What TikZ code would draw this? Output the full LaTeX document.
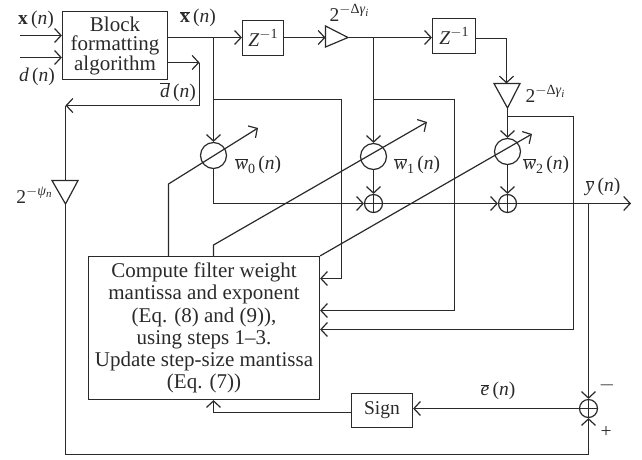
\documentclass[tikz,border=0pt]{standalone}
\usepackage{fontspec}
\setmainfont{Liberation Serif}
\usetikzlibrary{arrows.meta,calc}
\definecolor{ink}{HTML}{2A2A2A}
\newcommand{\ita}[1]{\textit{#1}}
\newcommand{\ofn}[1]{#1\,(\ita{n})}
\newcommand{\barred}[1]{$\overline{\hbox{#1}}$}
\newcommand{\subidx}[1]{\raisebox{-0.2em}{\fontsize{14}{14}\selectfont #1}}
\newcommand{\pw}[1]{2\raisebox{0.42em}{\fontsize{14}{14}\selectfont #1}}
\newcommand{\zinv}{\ita{Z}\raisebox{0.42em}{\fontsize{14}{14}\selectfont$-$1}}
\tikzset{
  x=1pt,y=-1pt,
  every node/.style={text=ink,font=\fontsize{19.5}{19.5}\selectfont},
  wire/.style={draw=ink,line width=1.2pt,line join=miter},
  arr/.style={wire,-{Straight Barb[length=6.5pt,width=14pt,line width=1.2pt]}},
  procbox/.style={draw=ink,line width=1.2pt,inner sep=0pt,align=center,rectangle},
  multc/.style={draw=ink,line width=1.2pt,circle,inner sep=0pt,minimum size=26pt},
  sumc/.style={draw=ink,line width=1.2pt,circle,inner sep=0pt,minimum size=18pt},
  lbl/.style={inner sep=0pt},
}
\begin{document}
\begin{tikzpicture}
\useasboundingbox (0,0) rectangle (642,459);
% boxes
\node[procbox,minimum width=105pt,minimum height=68pt,font=\fontsize{21}{19.5}\selectfont] (blk) at (115,45.5) {Block\\formatting\\algorithm};
\node[procbox,minimum width=41pt,minimum height=35pt] (z1) at (263,38) {\zinv};
\node[procbox,minimum width=43pt,minimum height=35pt] (z2) at (454,36) {\zinv};
\node[procbox,minimum width=231pt,minimum height=143pt,font=\fontsize{21}{22.3}\selectfont] (comp) at (204,328) {Compute filter weight\\mantissa and exponent\\(Eq. (8) and (9)),\\using steps 1--3.\\Update step-size mantissa\\(Eq. (7))};
\node[procbox,minimum width=61pt,minimum height=34pt] (sgn) at (382,410.5) {Sign};
% multipliers and summers
\node[multc] (m0) at (213.5,155.5) {};
\node[multc] (m1) at (373.5,156.5) {};
\node[multc] (m2) at (507.5,151.5) {};
\node[sumc] (s1) at (373.5,203.5) {};
\node[sumc] (s2) at (507.5,203.5) {};
\node[sumc] (s3) at (588.5,408.5) {};
\foreach \s in {s1,s2,s3}{\draw[wire] (\s.north)--(\s.south) (\s.west)--(\s.east);}
% triangles
\coordinate (t1a) at (325.5,26); \coordinate (t1b) at (325.5,47); \coordinate (t1c) at (348,37.5);
\coordinate (t2a) at (494,83.5); \coordinate (t2b) at (520,83.5); \coordinate (t2c) at (507.5,108);
\coordinate (t3a) at (52,180.5); \coordinate (t3b) at (78,180.5); \coordinate (t3c) at (65.5,204);
\draw[wire] (t1a)--(t1b)--(t1c)--cycle;
\draw[wire] (t2a)--(t2b)--(t2c)--cycle;
\draw[wire] (t3a)--(t3b)--(t3c)--cycle;
% inputs
\coordinate (inx) at (20,35.5); \coordinate (ind) at (20,57.5);
\draw[arr] (inx)--(inx-|blk.west);
\draw[arr] (ind)--(ind-|blk.west);
% top signal path
\coordinate (j0) at (213.5,37.5); \coordinate (j1) at (373.5,37.5);
\draw[arr] (blk.east|-j0)--(j0)--(j0-|z1.west);
\draw[arr] (z1.east|-t1c)--(t1a|-t1c);
\draw[arr] (t1c)--(j1)--(j1-|z2.west);
\coordinate (zc) at (506.5,38.5);
\draw[arr] (z2.east|-zc)--(zc)--(zc|-t2a);
\draw[arr] (j0)--(m0.north);
\draw[arr] (j1)--(m1.north);
\draw[arr] (t2c)--(m2.north);
% d bar path
\coordinate (db1) at (199.5,62.5); \coordinate (db2) at (199.5,105.5); \coordinate (db3) at (65.5,105.5);
\draw[arr] (blk.east|-db1)--(db1);
\draw[wire] (db1)--(db2);
\draw[arr] (db2)--(db3);
\draw[wire] (db3)--(t3a-|db3);
\coordinate (bl) at (65.5,454.5); \coordinate (br) at (588.5,454.5);
\draw[arr] (t3c)--(bl)--(br)--(s3.south);
% feedback taps into the compute box
\coordinate (f0a) at (213.5,99.5); \coordinate (f0b) at (341.5,99.5); \coordinate (f0c) at (341.5,278.5);
\draw[arr] (f0a)--(f0b)--(f0c)--(comp.east|-f0c);
\coordinate (f1a) at (373.5,99.5); \coordinate (f1b) at (454.5,99.5); \coordinate (f1c) at (454.5,310.5);
\draw[arr] (f1a)--(f1b)--(f1c)--(comp.east|-f1c);
\coordinate (f2a) at (507.5,116.5); \coordinate (f2b) at (573.5,116.5); \coordinate (f2c) at (573.5,329.5);
\draw[arr] (f2a)--(f2b)--(f2c)--(comp.east|-f2c);
% weights to adders
\coordinate (w0e) at (213.5,203.5);
\draw[arr] (m0.south)--(w0e)--(s1.west);
\draw[arr] (m1.south)--(s1.north);
\draw[arr] (m2.south)--(s2.north);
\draw[arr] (s1.east)--(s2.west);
\coordinate (yend) at (631,203.5);
\draw[arr] (s2.east)--(yend);
% error path
\coordinate (ytap) at (588.5,203.5);
\draw[arr] (ytap)--(s3.north);
\draw[arr] (s3.west)--(sgn.east|-s3);
\coordinate (sg1) at (213.5,412.5);
\draw[arr] (sgn.west|-sg1)--(sg1)--(comp.south-|sg1);
% adaptation diagonals
\coordinate (d0a) at (168.5,184); \coordinate (d0b) at (258,128);
\draw[arr] (comp.north-|d0a)--(d0a)--(d0b);
\coordinate (d1a) at (213.5,245); \coordinate (d1b) at (427,122);
\draw[arr] (comp.north-|d1a)--(d1a)--(d1b);
\coordinate (d2b) at (532,134);
\draw[arr] (comp.north east)--(d2b);
% labels
\node[lbl] (lx) at (36,20) {\textbf{x}\ofn{}};
\node[lbl] (ld) at (37,77) {\ofn{\ita{d}}};
\node[lbl] (lxb) at (198,18) {\barred{\textbf{x}}\ofn{}};
\node[lbl] (ldb) at (178,92) {\barred{\ita{d}}\ofn{}};
\node[lbl] (lp3) at (34,195) {\pw{$-$\ita{ψ}\raisebox{-0.2em}{\fontsize{11}{11}\selectfont\ita{n}}}};
\node[lbl] (lp1) at (349,13) {\pw{$-$Δ\ita{γ}\raisebox{-0.2em}{\fontsize{11}{11}\selectfont\ita{i}}}};
\node[lbl] (lp2) at (545,94) {\pw{$-$Δ\ita{γ}\raisebox{-0.2em}{\fontsize{11}{11}\selectfont\ita{i}}}};
\node[lbl] (lw0) at (258,165) {\barred{\ita{w}}\subidx{0}\ofn{}};
\node[lbl] (lw1) at (417,165) {\barred{\ita{w}}\subidx{1}\ofn{}};
\node[lbl] (lw2) at (546,165) {\barred{\ita{w}}\subidx{2}\ofn{}};
\node[lbl] (ly) at (603,187) {\barred{\ita{y}}\ofn{}};
\node[lbl] (le) at (498,391) {\barred{\ita{e}}\ofn{}};
\node[lbl] (lm) at (607,385) {$-$};
\node[lbl] (lpl) at (606,432) {+};
\end{tikzpicture}
\end{document}
